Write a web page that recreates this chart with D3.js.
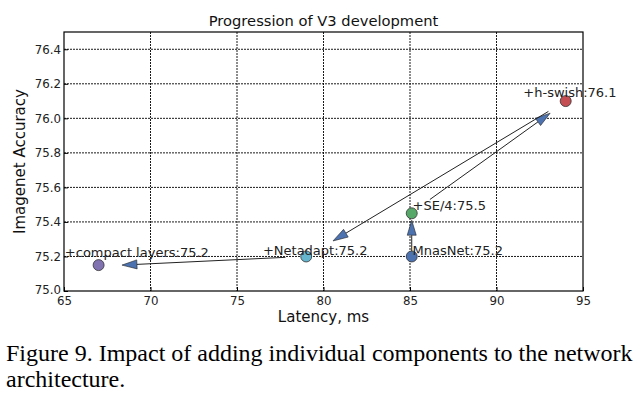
<!DOCTYPE html>
<html>
<head>
<meta charset="utf-8">
<script src="https://cdn.jsdelivr.net/npm/d3@7"></script>
<style>
  body { margin: 0; background: #fff; }
  svg text { font-family: "DejaVu Sans", sans-serif; }
</style>
</head>
<body>
<div id="chart-area"></div>
<script>
// model steps, latency (ms) and top-1 accuracy
const names = ['MnasNet', '+SE/4', '+h-swish', '+Netadapt', '+compact layers'];
const latency = [85.1, 85.1, 94.0, 79.0, 67.0];
const accuracy = [75.2, 75.45, 76.1, 75.2, 75.15];
const labelText = ['MnasNet:75.2', '+SE/4:75.5', '+h-swish:76.1', '+Netadapt:75.2', '+compact layers:75.2'];
// where each label sits, in data units
const labelX = [85.15, 85.15, 91.55, 76.5, 65.05];
const labelY = [75.21, 75.47, 76.125, 75.21, 75.195];
const colors = ['#4c72b0', '#55a868', '#c44e52', '#64b5cd', '#8172b2'];

// arrows between steps: [x0, y0, x1, y1] in data units
const arrows = [
  [85.1, 75.2, 85.1, 75.41],
  [86.15, 75.53, 93.1, 76.03],
  [93.0, 76.04, 80.55, 75.29],
  [77.8, 75.195, 68.35, 75.15]
];

const xTicks = [65, 70, 75, 80, 85, 90, 95];
const yTicks = [75.0, 75.2, 75.4, 75.6, 75.8, 76.0, 76.2, 76.4];

const margin = { left: 64, right: 61, top: 32, bottom: 105 };
const width = 644 - margin.left - margin.right;
const height = 396 - margin.top - margin.bottom;

const svg = d3.select('#chart-area').append('svg')
  .attr('width', 644)
  .attr('height', 396);

const g = svg.append('g')
  .attr('transform', `translate(${margin.left}, ${margin.top})`);

const x = d3.scaleLinear().domain([65, 95]).range([0, width]);
const y = d3.scaleLinear().domain([75.0, 76.5]).range([height, 0]);

// grid
g.selectAll('.vgrid').data(xTicks.slice(1, -1)).enter()
  .append('line')
    .attr('x1', d => x(d)).attr('x2', d => x(d))
    .attr('y1', 0).attr('y2', height)
    .attr('stroke', '#000').attr('stroke-width', 0.9)
    .attr('stroke-dasharray', '2,1');
g.selectAll('.hgrid').data(yTicks.slice(1)).enter()
  .append('line')
    .attr('y1', d => y(d)).attr('y2', d => y(d))
    .attr('x1', 0).attr('x2', width)
    .attr('stroke', '#000').attr('stroke-width', 0.9)
    .attr('stroke-dasharray', '2,1');

// axes
const xAxis = g.append('g')
  .attr('transform', `translate(0, ${height})`)
  .call(d3.axisBottom(x).tickValues(xTicks).tickFormat(d3.format('d'))
    .tickSizeInner(-4).tickSizeOuter(0).tickPadding(5.5));
const yAxis = g.append('g')
  .call(d3.axisLeft(y).tickValues(yTicks).tickFormat(d3.format('.1f'))
    .tickSizeInner(-4).tickSizeOuter(0).tickPadding(3));
[xAxis, yAxis].forEach(a => {
  a.select('.domain').remove();
  a.selectAll('line').attr('stroke', '#000');
  a.selectAll('text')
    .attr('font-family', '"DejaVu Sans", sans-serif')
    .attr('font-size', '11.8px')
    .attr('fill', '#222');
});
// lift the bottom y label a touch so it clears the x labels
yAxis.selectAll('.tick').filter(d => d === 75.0).select('text').attr('dy', '0.2em');

// frame
g.append('rect')
  .attr('width', width).attr('height', height)
  .attr('fill', 'none').attr('stroke', '#000').attr('stroke-width', 1.2);

// arrows
const headLen = 15, headHalf = 4.5;
arrows.forEach(a => {
  const x0 = x(a[0]), y0 = y(a[1]), x1 = x(a[2]), y1 = y(a[3]);
  const ang = Math.atan2(y1 - y0, x1 - x0);
  const bx = x1 - headLen * Math.cos(ang), by = y1 - headLen * Math.sin(ang);
  g.append('line')
    .attr('x1', x0).attr('y1', y0).attr('x2', bx).attr('y2', by)
    .attr('stroke', '#222').attr('stroke-width', 1);
  const px = -Math.sin(ang) * headHalf, py = Math.cos(ang) * headHalf;
  g.append('path')
    .attr('d', `M${x1},${y1}L${bx + px},${by + py}L${bx - px},${by - py}Z`)
    .attr('fill', '#4c72b0').attr('stroke', '#222').attr('stroke-width', 0.6);
});

// points
g.selectAll('circle').data(names).enter()
  .append('circle')
    .attr('cx', (d, i) => x(latency[i]))
    .attr('cy', (d, i) => y(accuracy[i]))
    .attr('r', 5.5)
    .attr('fill', (d, i) => colors[i])
    .attr('stroke', '#333').attr('stroke-width', 0.8);

// labels
g.selectAll('.lbl').data(labelText).enter()
  .append('text')
    .attr('class', 'lbl')
    .attr('x', (d, i) => x(labelX[i]))
    .attr('y', (d, i) => y(labelY[i]))
    .attr('font-size', '13px')
    .attr('fill', '#222')
    .text(d => d);

// title
g.append('text')
  .attr('x', width / 2).attr('y', -6)
  .attr('text-anchor', 'middle')
  .attr('font-size', '14.7px')
  .attr('fill', '#111')
  .text('Progression of V3 development');

// x axis label
g.append('text')
  .attr('x', width / 2).attr('y', height + 31)
  .attr('text-anchor', 'middle')
  .attr('font-size', '15px')
  .attr('fill', '#111')
  .text('Latency, ms');

// y axis label
g.append('text')
  .attr('x', -(height / 2)).attr('y', -39)
  .attr('text-anchor', 'middle')
  .attr('transform', 'rotate(-90)')
  .attr('font-size', '15px')
  .attr('fill', '#111')
  .text('Imagenet Accuracy');

// caption
const caption = ['Figure 9. Impact of adding individual components to the network', 'architecture.'];
svg.selectAll('.cap').data(caption).enter()
  .append('text')
    .attr('x', 6)
    .attr('y', (d, i) => 361 + i * 26)
    .style('font-family', '"Liberation Serif", "Times New Roman", serif')
    .attr('font-size', '24px')
    .attr('fill', '#000')
    .text(d => d);
</script>
</body>
</html>
